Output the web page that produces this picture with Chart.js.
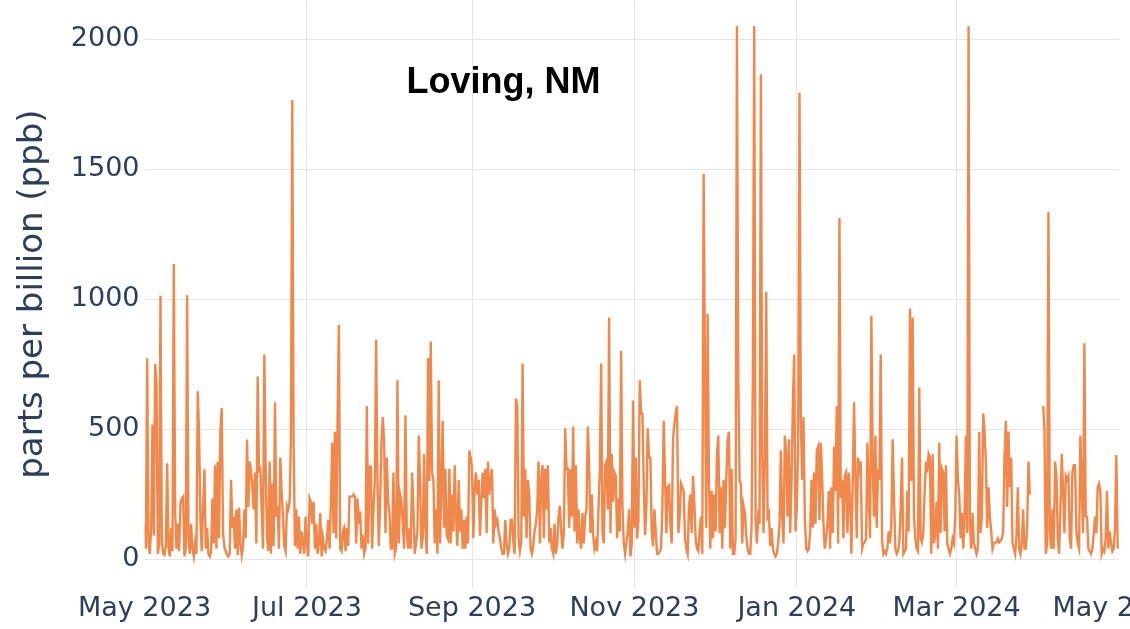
<!DOCTYPE html>
<html>
<head>
<meta charset="utf-8">
<title>Loving, NM</title>
<script src="https://cdn.jsdelivr.net/npm/chart.js@4.4.1/dist/chart.umd.min.js"></script>
<style>
  html, body { margin: 0; padding: 0; background: #fff; overflow: hidden; }
  #wrap { width: 1130px; height: 629px; overflow: hidden; }
</style>
</head>
<body>
<div id="wrap"><canvas id="myChart" width="1260" height="629"></canvas></div>
<script>
// Readings every 12 hours starting 1 May 2023, split by two-month blocks
const mayJun2023 = [
  135, 40, 772, 60, 20, 120, 517, 90, 750, 680, 20, 60, 1013, 70, 20, 15, 50, 368, 45, 10,
  120, 30, 1135, 184, 40, 135, 30, 212, 233, 240, 10, 40, 1015, 80, 20, 135, 40, 10, 60, 20,
  645, 475, 150, 30, 205, 345, 40, 120, 20, 10, 30, 233, 60, 361, 40, 375, 80, 490, 580, 100,
  45, 30, 15, 10, 20, 305, 120, 163, 40, 190, 15, 198, 60, 15, 50, 190, 80, 460, 200, 375,
  340, 276, 191, 333, 60, 702, 340, 347, 191, 40, 787, 347, 92, 30, 375, 20, 290, 50, 603, 163,
  205, 40, 390, 262, 163, 50, 30, 205, 191, 220, 460, 1766, 447, 50, 191, 40, 163, 20, 106, 60,
  20, 163
];
const julAug2023 = [
  60, 10, 234, 220, 135, 220, 40, 135, 20, 60, 177, 10, 80, 40, 30, 78, 150, 40, 220, 447,
  100, 490, 80, 532, 900, 40, 30, 106, 120, 30, 120, 50, 240, 240, 240, 248, 240, 60, 234, 135,
  184, 40, 92, 20, 40, 589, 60, 355, 355, 40, 191, 305, 844, 290, 50, 220, 447, 546, 447, 100,
  390, 220, 177, 40, 40, 333, 20, 40, 688, 60, 248, 220, 135, 40, 553, 106, 40, 120, 40, 333,
  191, 20, 60, 106, 475, 305, 40, 80, 404, 120, 20, 773, 300, 837, 333, 305, 60, 191, 20, 688,
  60, 290, 532, 120, 347, 92, 78, 347, 60, 248, 106, 361, 163, 50, 305, 106, 191, 40, 150, 40,
  163, 60, 418, 390
];
const sepOct2023 = [
  355, 80, 276, 333, 248, 305, 90, 220, 333, 234, 347, 100, 375, 248, 305, 347, 60, 191, 135, 150,
  106, 80, 40, 20, 20, 150, 60, 20, 40, 150, 150, 70, 20, 617, 589, 78, 30, 64, 752, 163,
  347, 80, 305, 248, 40, 20, 50, 106, 135, 191, 375, 60, 305, 361, 80, 347, 191, 361, 64, 120,
  40, 20, 135, 20, 60, 163, 205, 106, 40, 100, 503, 347, 347, 120, 347, 163, 510, 106, 361, 60,
  191, 78, 40, 177, 60, 163, 191, 510, 361, 100, 248, 92, 40, 64, 30, 191, 333, 752, 106, 60,
  361, 375, 191, 929, 100, 404, 220, 333, 319, 80, 234, 106, 801, 205, 60, 20, 64, 106, 191, 10,
  60, 610
];
const novDec2023 = [
  120, 390, 78, 150, 688, 560, 560, 290, 92, 200, 503, 390, 390, 106, 50, 191, 106, 20, 20, 30,
  40, 191, 532, 319, 100, 276, 283, 135, 60, 461, 518, 560, 589, 100, 163, 290, 276, 262, 80, 40,
  20, 205, 248, 100, 319, 220, 78, 40, 30, 106, 163, 20, 1482, 716, 120, 943, 305, 40, 262, 80,
  248, 106, 404, 475, 100, 276, 40, 305, 120, 305, 461, 490, 40, 347, 20, 20, 78, 2050, 702, 300,
  290, 60, 205, 177, 92, 40, 20, 20, 120, 716, 2050, 149, 60, 163, 135, 1865, 404, 100, 390, 1028,
  163, 177, 50, 120, 40, 20, 10, 20, 64, 135, 418, 163, 60, 475, 404, 163, 461, 100, 290, 589,
  787, 106
];
const janFeb2024 = [
  200, 447, 1794, 532, 305, 546, 163, 40, 30, 40, 106, 305, 120, 333, 135, 418, 433, 150, 447, 319,
  135, 40, 80, 135, 262, 40, 276, 100, 433, 262, 589, 60, 1312, 234, 305, 80, 319, 333, 100, 333,
  220, 20, 305, 603, 305, 80, 390, 347, 375, 40, 60, 64, 78, 447, 234, 80, 936, 347, 163, 475,
  120, 347, 305, 787, 78, 20, 30, 20, 40, 106, 60, 135, 461, 234, 40, 20, 30, 64, 191, 390,
  20, 30, 40, 262, 106, 964, 300, 929, 163, 78, 40, 30, 660, 78, 64, 100, 262, 375, 333, 404,
  390, 20, 404, 60, 92, 220, 40, 447, 100, 347, 333, 106, 361, 60, 40, 20, 40, 78, 60, 163
];
const marApr2024 = [
  475, 305, 248, 80, 177, 40, 163, 475, 100, 2050, 135, 40, 177, 60, 40, 20, 40, 490, 100, 163,
  560, 490, 375, 120, 276, 163, 106, 40, 60, 64, 64, 78, 64, 70, 78, 106, 390, 532, 200, 490,
  276, 390, 64, 40, 20, 92, 276, 40, 20, 60, 191, 40, 40, 120, 375, 248,
  null, null, null, null, null, null, null, null, null,
  589, 503, 20, 60, 1335, 106, 40, 191, 40, 375, 319, 80, 20, 191, 404, 262, 100, 319, 305, 319,
  80, 40, 333, 361, 361, 106, 60, 40, 475, 276, 100, 830, 163, 163, 40, 30, 20, 40, 92, 163,
  100, 276, 290, 262, 20, 40, 30, 78, 262, 40, 106, 64, 30, 40, 120, 400, 40
];

// Axis ticks: days since 1 May 2023 and their labels
const tickDays = [0, 61, 123, 184, 245, 305, 366];
const tickLabels = ['May 2023', 'Jul 2023', 'Sep 2023', 'Nov 2023', 'Jan 2024', 'Mar 2024', 'May 2024'];
const yTicks = [0, 500, 1000, 1500, 2000];

const ppb = [].concat(mayJun2023, julAug2023, sepOct2023, novDec2023, janFeb2024, marApr2024);
const points = ppb.map((v, i) => ({ x: i / 2, y: v }));

const textColor = '#2a3f5f';
const gridColor = '#e5e5e5';

// Site name drawn inside the plot
const siteTitle = {
  id: 'siteTitle',
  afterDraw(chart) {
    const c = chart.ctx;
    c.save();
    c.font = 'bold 36px "Liberation Sans", Arial, sans-serif';
    c.fillStyle = '#000';
    c.textAlign = 'center';
    c.textBaseline = 'alphabetic';
    c.fillText('Loving, NM', 503.5, 93);
    c.restore();
  }
};

const ctx = document.getElementById('myChart');

const myChart = new Chart(ctx, {
  type: 'line',
  data: {
    datasets: [{
      label: 'Loving, NM',
      data: points,
      borderColor: 'rgb(240, 135, 75)',
      borderWidth: 2.4,
      pointRadius: 0,
      tension: 0,
      spanGaps: false,
    }]
  },
  options: {
    responsive: false,
    animation: false,
    layout: { padding: { left: 0, right: 141, top: 0, bottom: 0 } },
    plugins: {
      legend: { display: false },
      tooltip: { enabled: false }
    },
    scales: {
      x: {
        type: 'linear',
        min: 0,
        max: 366,
        afterBuildTicks: (scale) => { scale.ticks = tickDays.map(v => ({ value: v })); },
        ticks: {
          autoSkip: false,
          maxRotation: 0,
          padding: 4.3,
          color: textColor,
          font: { family: '"DejaVu Sans", Verdana, sans-serif', size: 27 },
          callback: (value) => tickLabels[tickDays.indexOf(value)]
        },
        grid: {
          // no lines on the two edge ticks
          color: (c) => (c.index === 0 || c.index === tickDays.length - 1) ? 'rgba(0,0,0,0)' : gridColor,
          drawTicks: false
        },
        border: { display: false }
      },
      y: {
        min: -111.5,
        max: 2150,
        afterBuildTicks: (scale) => { scale.ticks = yTicks.map(v => ({ value: v })); },
        ticks: {
          padding: 0,
          color: textColor,
          font: { family: '"DejaVu Sans", Verdana, sans-serif', size: 27, lineHeight: 0.01 },
          callback: (value) => String(value)
        },
        grid: { color: gridColor, drawTicks: true, tickLength: 5, tickColor: 'rgba(0,0,0,0)' },
        border: { display: false },
        title: {
          display: true,
          text: 'parts per billion (ppb)',
          color: textColor,
          font: { family: '"DejaVu Sans", Verdana, sans-serif', size: 34 },
          padding: { top: 12.6, bottom: 17.4 }
        }
      }
    }
  },
  plugins: [siteTitle]
});
</script>
</body>
</html>
